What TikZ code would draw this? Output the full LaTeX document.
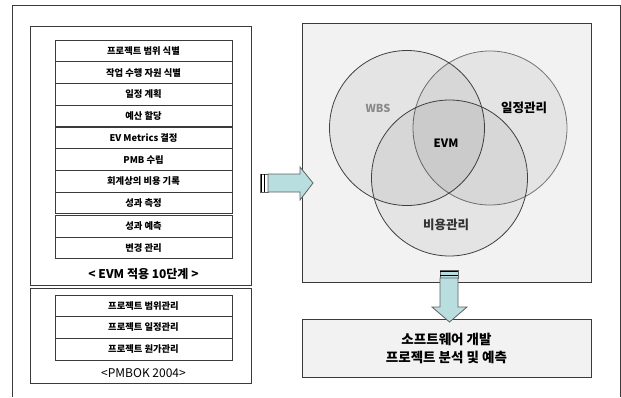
\documentclass[tikz,border=0pt]{standalone}
\usepackage{fontspec}
\setmainfont{Noto Sans CJK KR}
\usetikzlibrary{positioning}
\definecolor{panel}{HTML}{F2F2F2}
\definecolor{arrowfill}{HTML}{B9DEE0}
\definecolor{edge}{HTML}{3A3A3A}
\definecolor{wbsgray}{HTML}{8A8A8A}
\tikzset{
  stepbox/.style={draw=edge, line width=0.9pt, fill=white, minimum width=177pt, minimum height=21.6pt, inner sep=0pt, font=\fontsize{9.3}{11}\selectfont\bfseries},
  panelbox/.style={draw=edge, line width=1pt, inner sep=0pt},
  caption/.style={inner sep=0pt, font=\fontsize{12}{14}\selectfont\bfseries},
  vennlabel/.style={inner sep=0pt, font=\fontsize{12.5}{14}\selectfont\bfseries},
  blockarrow/.style={draw=edge!80, line width=0.8pt, fill=arrowfill},
  venncircle/.style={fill=black, fill opacity=0.055, line width=0.8pt},
}
\begin{document}
\begin{tikzpicture}[x=1pt,y=-1pt]
\useasboundingbox (0,0) rectangle (621,397);
% outer frame
\draw[edge, line width=1pt] (12,397) -- (12,5) -- (620,5) -- (620,397);
% left panels
\node[panelbox, minimum width=221pt, minimum height=259pt] (evmpanel) at (140.5,155.5) {};
\node[panelbox, minimum width=221pt, minimum height=95pt] (pmbokpanel) at (140.5,335.5) {};
% EVM steps
\node[stepbox] (s1) at (143.5,50.9) {프로젝트 범위 식별};
\node[stepbox] (s2) at (143.5,72.6) {작업 수행 자원 식별};
\node[stepbox] (s3) at (143.5,94.4) {일정 계획};
\node[stepbox] (s4) at (143.5,116.1) {예산 할당};
\node[stepbox] (s5) at (143.5,137.9) {EV Metrics 결정};
\node[stepbox] (s6) at (143.5,159.6) {PMB 수립};
\node[stepbox] (s7) at (143.5,181.4) {회계상의 비용 기록};
\node[stepbox] (s8) at (143.5,203.1) {성과 측정};
\node[stepbox] (s9) at (143.5,226.5) {성과 예측};
\node[stepbox] (s10) at (143.5,248.1) {변경 관리};
\node[caption] (evmcap) at (143.5,274) {< EVM 적용 10단계 >};
% PMBOK
\node[stepbox] (p1) at (143.5,305.8) {프로젝트 범위관리};
\node[stepbox] (p2) at (143.5,327.5) {프로젝트 일정관리};
\node[stepbox] (p3) at (143.5,349.2) {프로젝트 원가관리};
\node[caption, font=\fontsize{12}{14}\selectfont] (pmbokcap) at (143.5,373) {<PMBOK 2004>};
% right panel
\node[panelbox, fill=panel, minimum width=289pt, minimum height=259pt] (venn) at (446.5,152.5) {};
\draw[venncircle, draw=black!55] (490,128) circle[radius=77];
\draw[venncircle, draw=black!75] (407,128) circle[radius=77.5];
\draw[venncircle, draw=black!75] (449.5,178) circle[radius=78];
\node[vennlabel, text=wbsgray, font=\fontsize{11}{13}\selectfont\bfseries] (wbs) at (378,108) {WBS};
\node[vennlabel] (sched) at (524,108) {일정관리};
\node[vennlabel, font=\fontsize{11.5}{13}\selectfont\bfseries] (evm) at (446,143) {EVM};
\node[vennlabel, text=black!80] (cost) at (446,225) {비용관리};
% result box
\node[panelbox, fill=panel, minimum width=289pt, minimum height=58pt, align=center, font=\fontsize{13.5}{18}\selectfont\bfseries] (result) at (446.5,348) {소프트웨어 개발\\프로젝트 분석 및 예측};
% left arrow
\draw[blockarrow, fill=white] (260,174) rectangle (268,192);
\draw[black, line width=1.6pt] (261.3,174) -- (261.3,192);
\draw[black, line width=0.9pt] (264.5,174) -- (264.5,192);
\draw[blockarrow] (268,174) -- (300,174) -- (300,167) -- (313,183) -- (300,200) -- (300,192) -- (268,192) -- cycle;
% down arrow
\draw[blockarrow] (440,270) rectangle (458,278);
\draw[black, line width=1.6pt] (440,271.3) -- (458,271.3);
\draw[black, line width=0.9pt] (440,275.5) -- (458,275.5);
\draw[blockarrow] (440,278) -- (458,278) -- (458,307) -- (467,307) -- (449.5,322) -- (432,307) -- (440,307) -- cycle;
\end{tikzpicture}
\end{document}
